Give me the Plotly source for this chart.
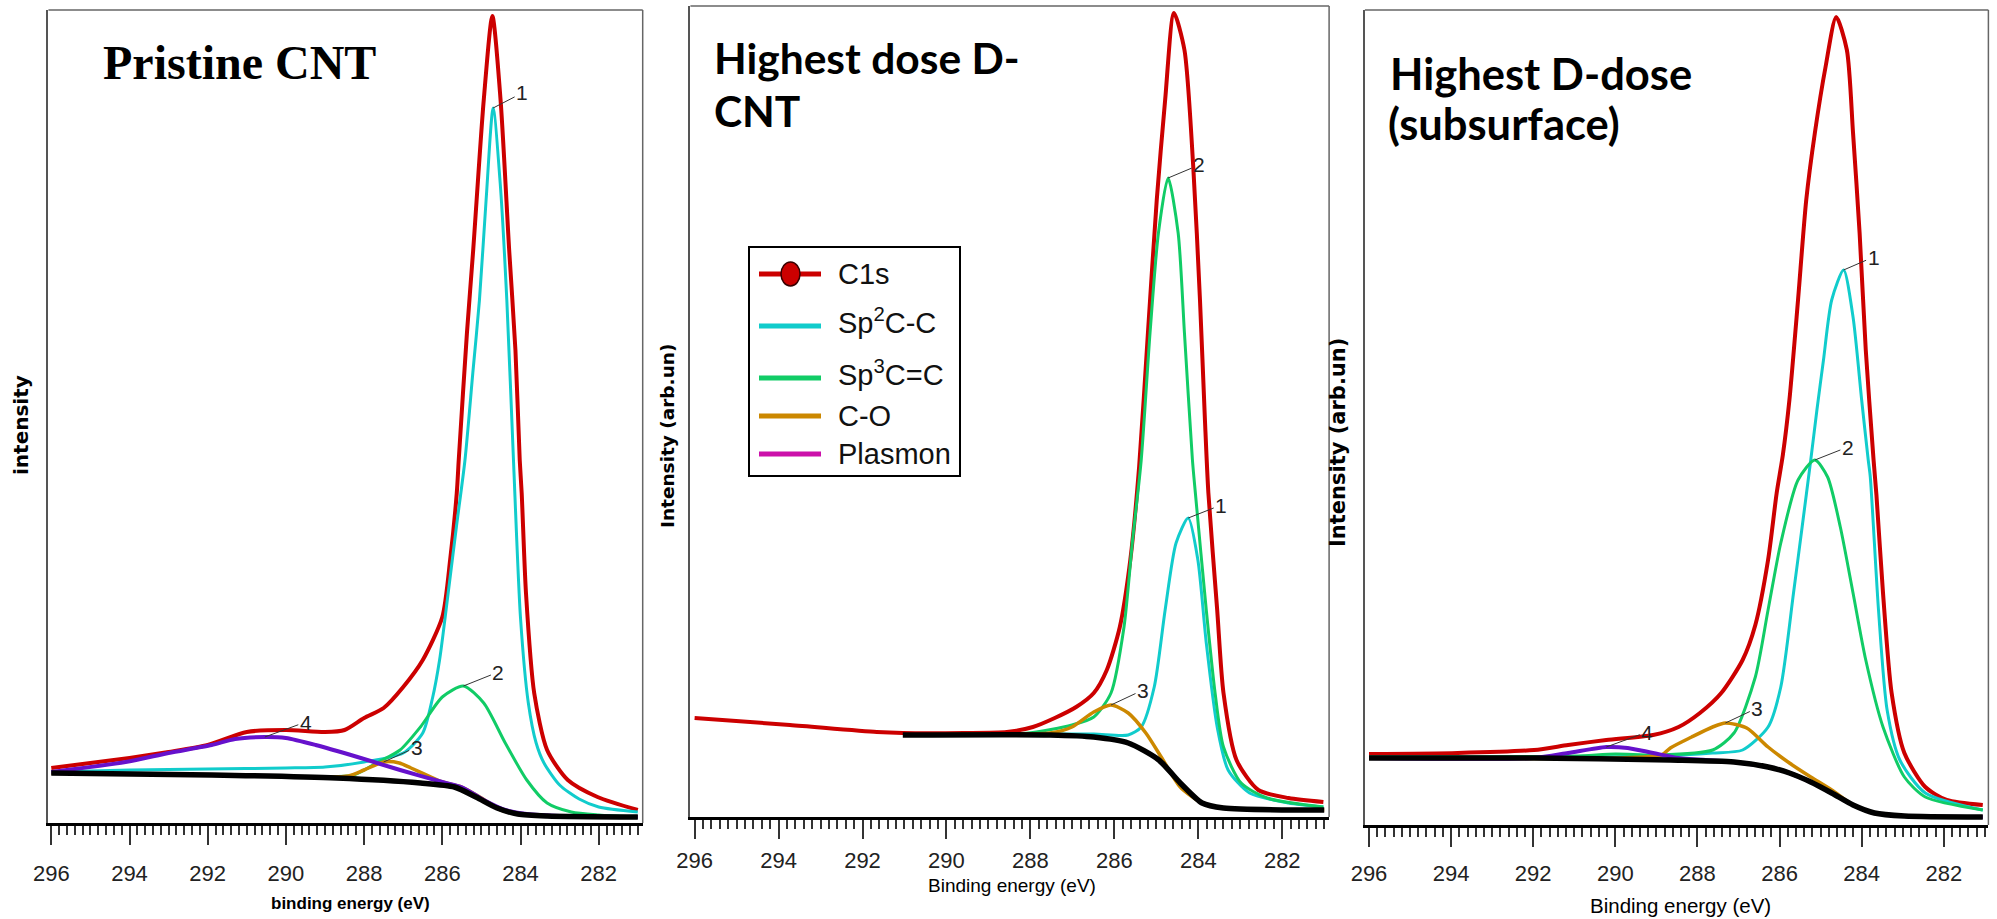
import plotly.graph_objects as go

W, H = 1997, 919

# ---------------- data (binding energy eV, intensity arb. units) ----------------
# Panel 1 : Pristine CNT
p1_c1s_ev = [296.0, 295.0, 294.0, 293.0, 292.0, 291.0, 290.0, 289.0, 288.5, 288.0, 287.5, 287.0, 286.5, 286.0,
             285.8, 285.63, 285.58, 285.37, 285.21, 284.94, 284.72, 284.51, 284.29, 284.13, 284.02, 283.97,
             283.86, 283.65, 283.32, 282.79, 282.03, 281.0]
p1_c1s_int = [55, 60, 65, 71, 78, 91, 93, 91, 93, 105, 115, 136, 163, 206, 263, 330, 363, 490, 573, 723, 807,
              723, 573, 473, 363, 330, 230, 130, 73, 43, 26, 13]
p1_sp2_ev = [296.0, 294.0, 292.0, 290.0, 289.0, 288.0, 287.0, 286.5, 286.25, 286.07, 285.85, 285.64, 285.42,
             285.22, 285.05, 284.88, 284.7, 284.52, 284.35, 284.18, 284.0, 283.8, 283.6, 283.4, 283.0, 282.5,
             282.0, 281.0]
p1_sp2_int = [51, 53, 54, 55, 56, 61, 70, 90, 125, 163, 230, 296, 363, 450, 523, 623, 715, 640, 523, 363, 205,
              120, 80, 60, 38, 24, 16, 11]
p1_sp3_ev = [296.0, 292.0, 289.0, 288.27, 287.63, 287.08, 286.56, 286.0, 285.46, 284.94, 284.39, 283.84, 283.32,
             282.7, 282.0, 281.0]
p1_sp3_int = [50, 48, 46, 48, 61, 73, 96, 126, 137, 120, 80, 43, 20, 11, 8, 6]
p1_co_ev = [296.0, 292.0, 289.0, 288.4, 288.0, 287.5, 287.1, 286.8, 286.4, 286.0, 285.5, 285.0, 284.5, 284.0,
            283.0, 281.0]
p1_co_int = [50, 48, 46, 47, 53, 61, 60, 55, 48, 41, 36, 25, 13, 9, 7, 6]
p1_pl_ev = [296.0, 294.1, 293.0, 291.9, 291.3, 290.54, 290.0, 289.24, 288.17, 287.08, 286.0, 285.46, 284.94,
            284.39, 283.84, 283.0, 281.0]
p1_pl_int = [51, 61, 70, 78, 84, 86, 85, 78, 66, 53, 41, 35, 23, 13, 9, 7, 6]
p1_bg_ev = [296.0, 291.9, 288.7, 286.56, 285.69, 285.14, 284.6, 284.07, 283.32, 281.0]
p1_bg_int = [50, 48, 45, 40, 36, 26, 15, 9, 7, 6]

# Panel 2 : Highest dose D-CNT
p2_c1s_ev = [296.0, 293.73, 291.66, 291.04, 289.59, 288.56, 287.94, 287.42, 286.91, 286.49, 286.18, 285.87,
             285.62, 285.41, 285.2, 284.99, 284.79, 284.58, 284.33, 284.12, 283.96, 283.84, 283.76, 283.55,
             283.4, 283.09, 282.57, 281.85, 281.02]
p2_c1s_int = [99, 92, 85, 84, 84, 85, 90, 99, 110, 124, 147, 190, 257, 350, 484, 617, 717, 804, 767, 650, 517,
              395, 324, 207, 124, 57, 27, 19, 15]
p2_sp2_ev = [291.0, 288.0, 286.49, 285.67, 285.36, 285.05, 284.79, 284.53, 284.24, 284.01, 283.81, 283.55,
             283.29, 282.78, 281.85, 281.02]
p2_sp2_int = [82, 83, 83, 82, 90, 130, 207, 274, 299, 257, 174, 90, 47, 24, 14, 10]
p2_sp3_ev = [291.0, 289.0, 288.04, 287.01, 286.49, 286.08, 285.77, 285.57, 285.36, 285.15, 284.95, 284.72,
             284.48, 284.33, 284.14, 284.07, 283.81, 283.6, 283.4, 282.98, 282.36, 281.02]
p2_sp3_int = [82, 83, 84, 92, 100, 124, 190, 275, 357, 484, 584, 639, 584, 484, 357, 324, 207, 124, 70, 34, 19, 10]
p2_co_ev = [291.0, 289.0, 287.53, 287.01, 286.49, 286.08, 285.67, 285.25, 284.84, 284.43, 283.91, 283.4, 281.0]
p2_co_int = [82, 83, 84, 90, 105, 112, 104, 84, 57, 30, 14, 9, 7]
p2_bg_ev = [291.04, 287.53, 286.49, 285.67, 284.94, 284.43, 283.91, 283.4, 281.0]
p2_bg_int = [82, 82, 80, 74, 57, 34, 14, 9, 7]

# Panel 3 : Highest D-dose (subsurface)
p3_c1s_ev = [296.0, 293.84, 291.98, 291.15, 290.22, 289.08, 288.46, 287.94, 287.42, 286.9, 286.59, 286.28,
             286.07, 285.92, 285.76, 285.55, 285.35, 285.14, 284.88, 284.62, 284.36, 284.21, 284.05, 283.9,
             283.71, 283.64, 283.48, 283.27, 282.96, 282.45, 281.93, 281.05]
p3_c1s_int = [71, 72, 75, 80, 85, 90, 98, 112, 132, 165, 200, 265, 332, 370, 425, 525, 625, 692, 758, 808, 775,
              692, 592, 475, 365, 330, 232, 132, 72, 38, 25, 20]
p3_sp2_ev = [296.0, 291.0, 289.0, 287.63, 286.9, 286.28, 285.97, 285.66, 285.45, 285.24, 285.09, 284.93, 284.73,
             284.44, 284.21, 284.0, 283.84, 283.79, 283.59, 283.38, 283.07, 282.45, 281.05]
p3_sp2_int = [68, 68, 69, 72, 75, 98, 138, 232, 298, 365, 415, 465, 525, 555, 508, 425, 365, 348, 215, 115, 65,
              32, 15]
p3_sp3_ev = [296.0, 291.0, 290.0, 289.0, 287.63, 287.11, 286.59, 286.28, 285.97, 285.55, 285.14, 284.83, 284.52,
             284.21, 283.9, 283.48, 282.96, 282.45, 281.05]
p3_sp3_int = [68, 69, 71, 70, 75, 92, 148, 215, 282, 345, 365, 348, 298, 232, 165, 98, 48, 28, 15]
p3_co_ev = [296.0, 290.0, 288.87, 288.66, 288.14, 287.63, 287.32, 286.8, 286.28, 285.76, 285.24, 284.73, 284.21,
            283.69, 282.96, 281.05]
p3_co_int = [67, 67, 70, 77, 88, 98, 102, 97, 78, 62, 48, 35, 20, 12, 9, 8]
p3_pl_ev = [296.0, 292.0, 291.15, 290.22, 289.7, 289.08, 288.46, 287.11, 286.28, 285.76, 285.24, 284.73, 284.21,
            283.69, 282.96, 281.05]
p3_pl_int = [67, 67, 72, 78, 77, 72, 67, 63, 58, 52, 43, 32, 20, 12, 9, 8]
p3_bg_ev = [296.0, 291.98, 288.66, 287.11, 286.28, 285.76, 285.24, 284.73, 284.21, 283.69, 282.96, 281.05]
p3_bg_int = [67, 67, 65, 63, 58, 52, 43, 32, 20, 12, 9, 8]

tick_vals = [296, 294, 292, 290, 288, 286, 284, 282]
tick_text = ["296", "294", "292", "290", "288", "286", "284", "282"]

legend_names = ["C1s", "Sp<sup>2</sup>C-C", "Sp<sup>3</sup>C=C", "C-O", "Plasmon"]

# ---------------- styles ----------------
C_RED = "#cc0000"
C_CYAN = "#11cccc"
C_GREEN = "#11cc66"
C_ORANGE = "#cc8800"
C_PURPLE = "#6611cc"
C_MAGENTA = "#cc11aa"
C_BLACK = "#000000"
legend_colors = [C_RED, C_CYAN, C_GREEN, C_ORANGE, C_MAGENTA]

NARROW = "Liberation Sans Narrow, Arial Narrow, Liberation Sans, Arial, sans-serif"

# panel boxes in pixels: left, right, top, bottom, x-range, tick label standoff
boxes = [
    dict(l=48.4, r=642.7, t=10, b=823, xr=[296.074, 280.875], so=10),
    dict(l=690.4, r=1329.1, t=6, b=817, xr=[296.10, 280.884], so=3),
    dict(l=1364.9, r=1988.4, t=10, b=825, xr=[296.10, 280.913], so=8),
]

# legend box (pixels) and row centres
LEG = dict(l=749, r=960, t=247, b=476, line_x0=759, line_x1=821, text_x=836)
leg_rows = [274, 326, 378, 416, 454]
leg_text_rows = [274, 321, 373, 416, 454]


def px(x):
    return x / W


def py(y):
    return 1 - y / H


fig = go.Figure()


def add_curve(i, ev, inten, color, width, name):
    ax = "" if i == 0 else str(i + 1)
    fig.add_trace(go.Scatter(
        x=ev, y=inten, mode="lines", name=name, showlegend=False,
        line=dict(color=color, width=width, shape="spline", smoothing=0.7),
        xaxis="x" + ax, yaxis="y" + ax, hoverinfo="skip"))


panel_data = [
    [(p1_c1s_ev, p1_c1s_int, C_RED, 4, "C1s"), (p1_sp2_ev, p1_sp2_int, C_CYAN, 3, "Sp2"),
     (p1_sp3_ev, p1_sp3_int, C_GREEN, 3, "Sp3"), (p1_co_ev, p1_co_int, C_ORANGE, 3.5, "C-O"),
     (p1_pl_ev, p1_pl_int, C_PURPLE, 4, "Plasmon"), (p1_bg_ev, p1_bg_int, C_BLACK, 5.5, "Background")],
    [(p2_c1s_ev, p2_c1s_int, C_RED, 4, "C1s"), (p2_sp2_ev, p2_sp2_int, C_CYAN, 3, "Sp2"),
     (p2_sp3_ev, p2_sp3_int, C_GREEN, 3, "Sp3"), (p2_co_ev, p2_co_int, C_ORANGE, 3.5, "C-O"),
     (p2_bg_ev, p2_bg_int, C_BLACK, 5.5, "Background")],
    [(p3_c1s_ev, p3_c1s_int, C_RED, 4, "C1s"), (p3_sp2_ev, p3_sp2_int, C_CYAN, 3, "Sp2"),
     (p3_sp3_ev, p3_sp3_int, C_GREEN, 3, "Sp3"), (p3_co_ev, p3_co_int, C_ORANGE, 3.5, "C-O"),
     (p3_pl_ev, p3_pl_int, C_PURPLE, 4, "Plasmon"), (p3_bg_ev, p3_bg_int, C_BLACK, 5.5, "Background")],
]

for i, curves in enumerate(panel_data):
    for ev, inten, color, width, name in curves:
        add_curve(i, ev, inten, color, width, name)

layout = dict(
    width=W, height=H, margin=dict(l=0, r=0, t=0, b=0, autoexpand=False),
    paper_bgcolor="white", plot_bgcolor="white", showlegend=False,
)

shapes = []
for i, bx in enumerate(boxes):
    sfx = "" if i == 0 else str(i + 1)
    ymax = bx["b"] - bx["t"]
    layout["xaxis" + sfx] = dict(
        domain=[px(bx["l"]), px(bx["r"])], range=bx["xr"], anchor="y" + sfx, automargin=False,
        showline=True, linecolor="black", linewidth=3, showgrid=False, zeroline=False,
        ticks="outside", ticklen=19, tickwidth=2, tickcolor="#333",
        tickvals=tick_vals, ticktext=tick_text, ticklabelstandoff=bx["so"],
        tickfont=dict(family=NARROW, size=22, color="#222"),
        minor=dict(dtick=0.2, tick0=296, ticks="outside", ticklen=9, tickwidth=1.5,
                   tickcolor="#333", showgrid=False),
    )
    layout["yaxis" + sfx] = dict(
        domain=[py(bx["b"]), py(bx["t"])], range=[0, ymax], anchor="x" + sfx, automargin=False,
        showline=True, linecolor="#555", linewidth=2, showgrid=False, zeroline=False,
        showticklabels=False, ticks="",
    )
    # top and right frame lines
    shapes.append(dict(type="line", xref="paper", yref="paper", x0=px(bx["l"]), x1=px(bx["r"]),
                       y0=py(bx["t"]), y1=py(bx["t"]), line=dict(color="#666", width=1.5)))
    shapes.append(dict(type="line", xref="paper", yref="paper", x0=px(bx["r"]), x1=px(bx["r"]),
                       y0=py(bx["t"]), y1=py(bx["b"]), line=dict(color="#666", width=1.5)))

# legend (drawn in the middle panel)
shapes.append(dict(type="rect", xref="paper", yref="paper", x0=px(LEG["l"]), x1=px(LEG["r"]),
                   y0=py(LEG["b"]), y1=py(LEG["t"]), line=dict(color="black", width=2),
                   fillcolor="white", layer="above"))
for ry, col in zip(leg_rows, legend_colors):
    shapes.append(dict(type="line", xref="paper", yref="paper", x0=px(LEG["line_x0"]), x1=px(LEG["line_x1"]),
                       y0=py(ry), y1=py(ry), line=dict(color=col, width=5), layer="above"))
shapes.append(dict(type="circle", xref="paper", yref="paper", x0=px(781), x1=px(800),
                   y0=py(leg_rows[0] + 12), y1=py(leg_rows[0] - 12), fillcolor=C_RED,
                   line=dict(color="#3a0000", width=1.5), layer="above"))

layout["shapes"] = shapes

ann = []


def text_ann(x, y, text, size, family, xanchor="center", angle=0, color="black"):
    ann.append(dict(x=px(x), y=py(y), xref="paper", yref="paper", text=text, showarrow=False,
                    xanchor=xanchor, yanchor="middle", textangle=angle,
                    font=dict(family=family, size=size, color=color)))


for ry, nm in zip(leg_text_rows, legend_names):
    text_ann(LEG["text_x"], ry, nm, 29, "Liberation Sans, Arial, sans-serif", "left", color="#111")

# panel titles
text_ann(101, 62, "<b>Pristine CNT</b>", 48, "Liberation Serif, Times New Roman, serif", "left")
text_ann(712, 58, "<b>Highest dose D-</b>", 42.5, "Lato, Open Sans, sans-serif", "left")
text_ann(712, 111, "<b>CNT</b>", 42.5, "Lato, Open Sans, sans-serif", "left")
text_ann(1388, 73, "<b>Highest D-dose</b>", 43.5, "Lato, Open Sans, sans-serif", "left")
text_ann(1386, 123, "<b>(subsurface)</b>", 43.5, "Lato, Open Sans, sans-serif", "left")

# axis titles
text_ann(350, 903, "<b>binding energy (eV)</b>", 17, NARROW)
text_ann(1012, 885, "Binding energy (eV)", 19, NARROW)
text_ann(1680, 905, "Binding energy (eV)", 20.5, NARROW)
text_ann(21, 425, "<b>intensity</b>", 20, "DejaVu Sans, Verdana, sans-serif", angle=-90)
text_ann(668, 436, "<b>Intensity (arb.un)</b>", 18.5, "DejaVu Sans, Verdana, sans-serif", angle=-90)
text_ann(1338, 443, "<b>Intensity (arb.un)</b>", 21, "DejaVu Sans, Verdana, sans-serif", angle=-90)

# peak labels with leader lines
peak_labels = [
    (0, p1_sp2_ev, p1_sp2_int, "1", 29, -15), (0, p1_sp3_ev, p1_sp3_int, "2", 35, -14),
    (0, p1_co_ev, p1_co_int, "3", 33, -15), (0, p1_pl_ev, p1_pl_int, "4", 41, -15),
    (1, p2_sp3_ev, p2_sp3_int, "2", 31, -13), (1, p2_sp2_ev, p2_sp2_int, "1", 33, -13),
    (1, p2_co_ev, p2_co_int, "3", 32, -15),
    (2, p3_sp2_ev, p3_sp2_int, "1", 30, -13), (2, p3_sp3_ev, p3_sp3_int, "2", 33, -13),
    (2, p3_co_ev, p3_co_int, "3", 32, -15), (2, p3_pl_ev, p3_pl_int, "4", 41, -15),
]
for i, ev, inten, lab, dx, dy in peak_labels:
    sfx = "" if i == 0 else str(i + 1)
    k = inten.index(max(inten))
    ann.append(dict(x=ev[k], y=inten[k], xref="x" + sfx, yref="y" + sfx, text=lab,
                    showarrow=True, arrowhead=0, arrowwidth=1, arrowcolor="#333",
                    ax=dx, ay=dy, standoff=0,
                    font=dict(family=NARROW, size=21, color="#222")))

layout["annotations"] = ann
fig.update_layout(**layout)
fig.write_html("out.html")
